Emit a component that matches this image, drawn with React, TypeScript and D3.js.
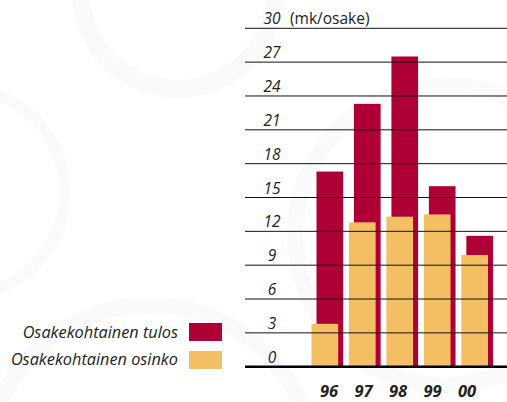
import React from "react";
import * as d3 from "d3";

const years = ["96", "97", "98", "99", "00"];
const tulos = [17.3, 23.3, 27.5, 16.0, 11.6];
const osinko = [3.8, 12.8, 13.3, 13.5, 9.9];
const yTicks = [0, 3, 6, 9, 12, 15, 18, 21, 24, 27, 30];
const unitLabel = "(mk/osake)";
const legendLabels = ["Osakekohtainen tulos", "Osakekohtainen osinko"];

const RED = "#ae0036";
const YELLOW = "#f4be63";
const FONT = "'Open Sans', 'Noto Sans', sans-serif";

export default function App() {
  const W = 507;
  const H = 402;
  const y = d3.scaleLinear().domain([0, 30]).range([366.7, 28.3]);
  const x = d3
    .scaleBand<string>()
    .domain(years)
    .range([316.5, 493])
    .paddingInner(0.288)
    .paddingOuter(0);
  const labelX = d3.scalePoint<string>().domain(years).range([329, 467]);
  const yellowOffset = -5;
  const gridX0 = 245;

  const arcs = [
    { cx: 178, cy: -8, r: 97, w: 18 },
    { cx: -39, cy: 192, r: 104, w: 11 },
    { cx: 445, cy: 235, r: 150, w: 16 },
    { cx: 150, cy: 470, r: 165, w: 16 },
  ];

  return (
    <svg
      width={W}
      height={H}
      style={{ position: "absolute", left: 0, top: 0, background: "#fff" }}
    >
      <g fill="none" stroke="#fafafa">
        {arcs.map((a, i) => (
          <circle key={i} cx={a.cx} cy={a.cy} r={a.r} strokeWidth={a.w} />
        ))}
      </g>
      {years.map((yr, i) => (
        <rect
          key={"r" + yr}
          x={x(yr)}
          y={y(tulos[i])}
          width={x.bandwidth()}
          height={y(0) - y(tulos[i])}
          fill={RED}
        />
      ))}
      {years.map((yr, i) => (
        <rect
          key={"y" + yr}
          x={(x(yr) as number) + yellowOffset}
          y={y(osinko[i])}
          width={x.bandwidth()}
          height={y(0) - y(osinko[i])}
          fill={YELLOW}
        />
      ))}
      {yTicks.map((t) => (
        <g key={t}>
          {t !== 0 && (
            <line
              x1={gridX0}
              x2={W}
              y1={y(t)}
              y2={y(t)}
              stroke="#111"
              strokeWidth={1}
            />
          )}
          <text
            x={272}
            y={y(t) - 4}
            textAnchor="middle"
            fontFamily={FONT}
            fontStyle="italic"
            fontSize={15.5}
            fill="#222"
          >
            {t}
          </text>
        </g>
      ))}
      <line
        x1={gridX0}
        x2={W}
        y1={y(0)}
        y2={y(0)}
        stroke="#000"
        strokeWidth={2.4}
      />
      <text
        x={290}
        y={y(30) - 4}
        fontFamily={FONT}
        fontSize={15.5}
        fill="#222"
      >
        {unitLabel}
      </text>
      {years.map((yr) => (
        <text
          key={"l" + yr}
          x={labelX(yr)}
          y={397}
          textAnchor="middle"
          fontFamily={FONT}
          fontStyle="italic"
          fontWeight="bold"
          fontSize={16.5}
          fill="#222"
        >
          {yr}
        </text>
      ))}
      {legendLabels.map((lab, i) => (
        <g key={lab}>
          <rect
            x={189}
            y={323 + i * 28}
            width={33}
            height={18}
            fill={i === 0 ? RED : YELLOW}
          />
          <text
            x={178}
            y={338 + i * 27}
            textAnchor="end"
            fontFamily={FONT}
            fontStyle="italic"
            fontSize={16.3}
            fill="#222"
          >
            {lab}
          </text>
        </g>
      ))}
    </svg>
  );
}
